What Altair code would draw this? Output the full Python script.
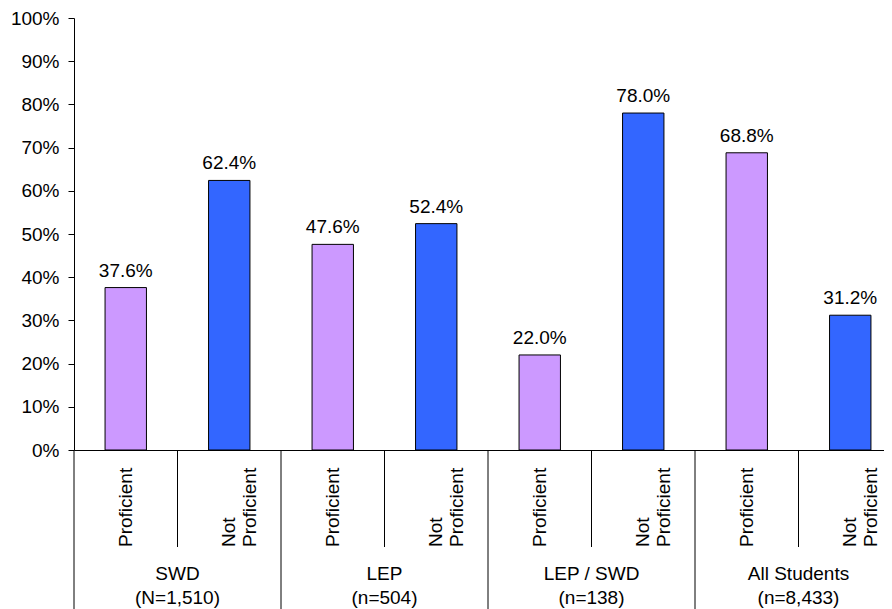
import altair as alt
import pandas as pd

groups = ["SWD", "LEP", "LEP / SWD", "All Students"]
group_ns = ["(N=1,510)", "(n=504)", "(n=138)", "(n=8,433)"]
statuses = ["Proficient", "Not Proficient"]
values = [37.6, 62.4, 47.6, 52.4, 22.0, 78.0, 68.8, 31.2]
colors = ["#CC99FF", "#3366FF"]
y_ticks = [0, 10, 20, 30, 40, 50, 60, 70, 80, 90, 100]

rows = []
i = 0
for g in groups:
    for s in statuses:
        rows.append({
            "key": f"{g}|{s}",
            "group": g,
            "status": s,
            "value": values[i],
            "label": f"{values[i]:.1f}%",
            "tick": s.replace(" ", "\n"),
        })
        i += 1
df = pd.DataFrame(rows)
keys = list(df["key"])

grp_df = pd.DataFrame({
    "pos": [2 * k + 1 for k in range(len(groups))],
    "text": [f"{g}\n{n}" for g, n in zip(groups, group_ns)],
})
minor_df = pd.DataFrame({"pos": [2 * k + 1 for k in range(len(groups))]})
major_df = pd.DataFrame({"pos": [2 * k for k in range(len(groups) + 1)]})

W, H = 810, 432      # visible plot width (the axis runs on past the page edge)
XR = 828             # full extent of the category axis
FONT = "Liberation Sans"
FS = 19

xb = alt.X(
    "key:N", sort=keys,
    scale=alt.Scale(domain=keys, paddingInner=0.6, paddingOuter=0.3, range=[0, XR]),
    axis=alt.Axis(labels=False, ticks=False, domain=True, domainColor="black",
                  domainWidth=1, title=None),
)
yq = alt.Y(
    "value:Q",
    scale=alt.Scale(domain=[0, 100], nice=False),
    axis=alt.Axis(values=y_ticks, labelExpr="datum.value + '%'", tickSize=6,
                  tickColor="black", domainColor="black", labelFontSize=FS,
                  labelFont=FONT, labelColor="black", labelPadding=9,
                  grid=False, title=None),
)

bars = alt.Chart(df).mark_bar(stroke="black", strokeWidth=1).encode(
    x=xb, y=yq,
    color=alt.Color("status:N", scale=alt.Scale(domain=statuses, range=colors), legend=None),
)
vlabels = alt.Chart(df).mark_text(
    dy=-11, baseline="alphabetic", fontSize=FS, font=FONT, color="black"
).encode(x=xb, y=yq, text="label:N")
ticklabels = alt.Chart(df).mark_text(
    angle=270, align="left", baseline="middle", lineBreak="\n",
    fontSize=FS, font=FONT, color="black", lineHeight=21,
).encode(x=xb, y=alt.value(H + 97), text="tick:N")

band_layer = alt.layer(bars, vlabels, ticklabels)

xl = alt.X("pos:Q", scale=alt.Scale(domain=[0, 8], nice=False, zero=False, range=[0, XR]),
           axis=None)
minor = alt.Chart(minor_df).mark_rule(color="black", strokeWidth=1).encode(
    x=xl, y=alt.value(H), y2=alt.value(H + 97))
major = alt.Chart(major_df).mark_rule(color="black", strokeWidth=1).encode(
    x=xl, y=alt.value(H), y2=alt.value(H + 160))
grp = alt.Chart(grp_df).mark_text(
    baseline="top", align="center", lineBreak="\n", fontSize=FS, font=FONT,
    color="black", lineHeight=24,
).encode(x=xl, y=alt.value(H + 115), text="text:N")
lin_layer = alt.layer(minor, major, grp)

chart = alt.layer(band_layer, lin_layer).resolve_scale(x="independent").properties(
    width=W, height=H,
    autosize=alt.AutoSizeParams(type="none"),
    padding={"left": 66, "top": 10, "right": 0, "bottom": 159},
).configure_view(stroke=None)

chart.save("out.html", embed_options={"renderer": "svg", "actions": False})
